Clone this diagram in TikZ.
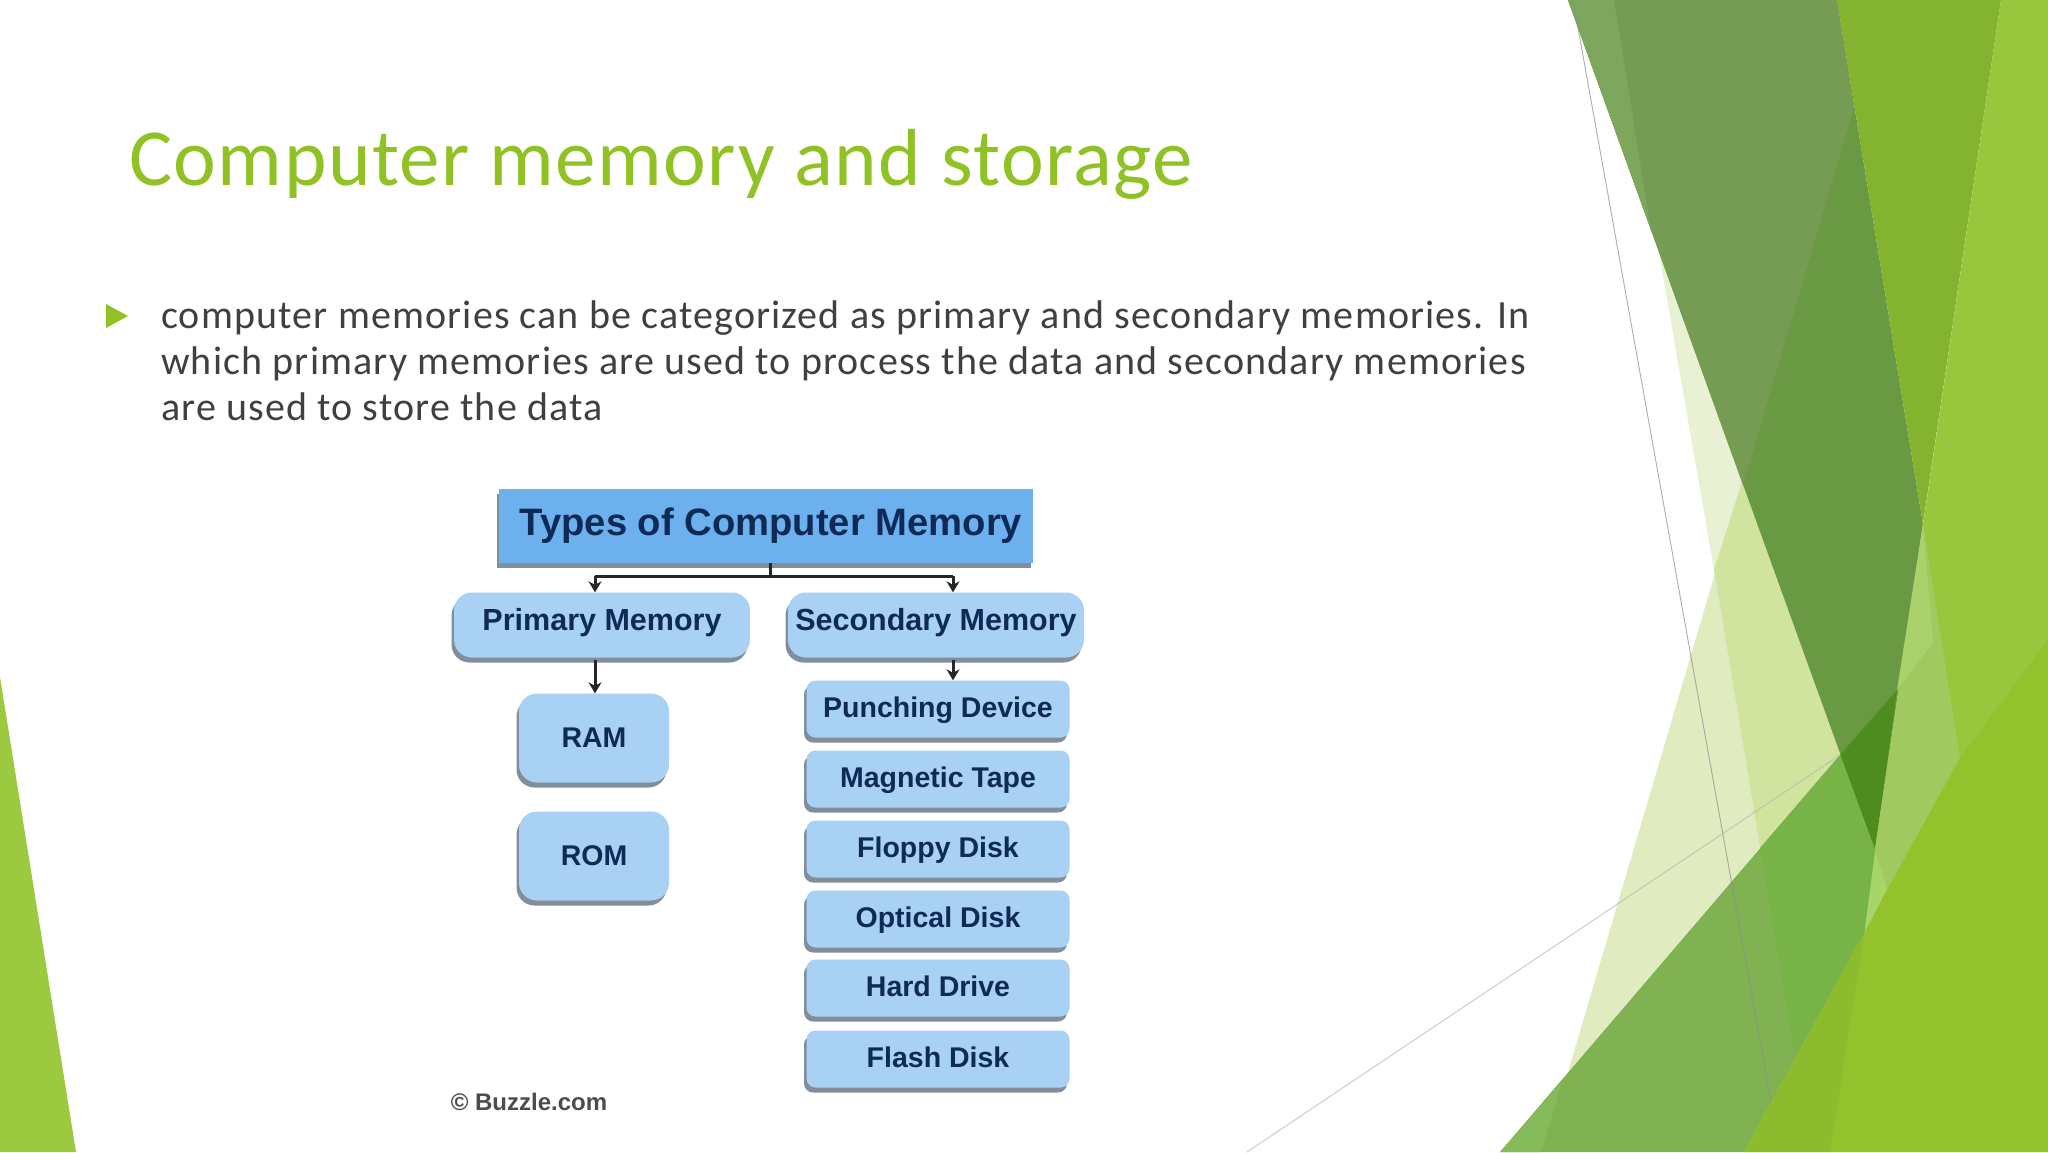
\documentclass[tikz,border=0pt]{standalone}
\usepackage{fontspec}
\setmainfont{Carlito}
\newfontfamily\diagfont{Liberation Sans}
\newfontfamily\titlefont[LetterSpace=1.8]{Carlito}
\newfontfamily\bodyfont[LetterSpace=2.9]{Carlito}
\usetikzlibrary{shadows,arrows.meta}
\definecolor{accent}{HTML}{90C226}
\definecolor{bodytext}{HTML}{404040}
\definecolor{inkblue}{HTML}{0F2B55}
\definecolor{HdrBlue}{HTML}{6CB0EE}
\definecolor{LiteBlue}{HTML}{A8D1F4}
\definecolor{shadowgrey}{HTML}{4E5F70}
\definecolor{cornerg}{HTML}{9BC940}
\definecolor{pa}{HTML}{E8F1D4}\definecolor{pb}{HTML}{E0EBC0}\definecolor{pc}{HTML}{D0E4A0}
\definecolor{aa}{HTML}{769B53}\definecolor{ab}{HTML}{7EA75D}\definecolor{ac}{HTML}{699A43}
\definecolor{dk}{HTML}{4F8C20}
\definecolor{ba}{HTML}{84B32F}
\definecolor{ca}{HTML}{98C63C}
\definecolor{da}{HTML}{ABD16C}\definecolor{db}{HTML}{A0CA60}\definecolor{fa}{HTML}{A8D568}
\definecolor{ga}{HTML}{80B252}\definecolor{gb}{HTML}{78B347}\definecolor{gc}{HTML}{86BB5C}
\definecolor{ea}{HTML}{93C22C}\definecolor{eb}{HTML}{8CBB2E}
\tikzset{
  hair/.style={draw=#1,line width=0.9pt},
  boxbase/.style={inner sep=0pt,align=center,text=inkblue,
    drop shadow={shadow xshift=-2.5pt,shadow yshift=-5pt,fill=shadowgrey,opacity=0.7}},
  topbox/.style={boxbase,fill=HdrBlue,minimum width=534pt,minimum height=74pt,text height=28.6pt,text depth=10.5pt,font=\diagfont\bfseries\fontsize{38.2}{40}\selectfont},
  midbox/.style={boxbase,fill=LiteBlue,rounded corners=18pt,minimum width=296pt,minimum height=65pt,text height=22.9pt,text depth=12.2pt,font=\diagfont\bfseries\fontsize{30.5}{32}\selectfont},
  tallbox/.style={boxbase,fill=LiteBlue,rounded corners=18pt,minimum width=150pt,minimum height=89pt,text height=20.8pt,text depth=2.3pt,font=\diagfont\bfseries\fontsize{28.5}{30}\selectfont},
  listbox/.style={boxbase,fill=LiteBlue,rounded corners=9pt,minimum width=263pt,minimum height=57pt,text height=20.8pt,text depth=4pt,font=\diagfont\bfseries\fontsize{28.5}{30}\selectfont},
  link/.style={draw=black!85,line width=3pt},
  linkarrow/.style={link,-{Stealth[length=11pt,width=13pt]}},
  bodyline/.style={anchor=base west,inner sep=0pt,text=bodytext,font=\bodyfont\fontsize{40}{46}\selectfont},
}
\begin{document}
\begin{tikzpicture}[x=1pt,y=-1pt]
\useasboundingbox (0,0) rectangle (2048,1152);
\fill[white] (0,0) rectangle (2048,1152);
% left corner
\fill[cornerg] (0,677) -- (76,1152) -- (0,1152) -- cycle;
% pale shapes (run under the dark blade)
\fill[pa] (1655,230) -- (1760,482) -- (1714,570) -- cycle;
\fill[pb] (1714,570) -- (1760,848) -- (1568,1072) -- (1742,482) -- cycle;
\fill[pc] (1714,570) -- (1742,482) -- (1860,755) -- (1840,755) -- (1760,848) -- cycle;
% dark upper shape
\fill[ac] (1568,0) -- (1837,0) -- (1923,524) -- (1875,850) -- cycle;
\fill[aa] (1568,0) -- (1837,0) -- (1854,107) -- (1743,485) -- cycle;
\fill[ab] (1568,0) -- (1614,0) -- (1651,230) -- cycle;
\fill[dk] (1897,690) -- (1840,755) -- (1875,850) -- cycle;
% bright centre blade
\fill[ba] (1837,0) -- (2001,0) -- (1923,524) -- cycle;
% right blade
\fill[ca] (2001,0) -- (2048,0) -- (2048,1152) -- (1830,1152) -- cycle;
% light wedges
\fill[db] (1923,524) -- (1960,758) -- (1887,889) -- (1875,850) -- cycle;
\fill[da] (1923,524) -- (1933,642) -- (1897,690) -- cycle;
\fill[fa] (1875,850) -- (1887,889) -- (1864,934) -- cycle;
% lower green
\fill[ga] (1840,755) -- (1875,850) -- (1864,934) -- (1744,1152) -- (1500,1152) -- cycle;
\fill[gb] (1840,755) -- (1875,850) -- (1864,934) -- (1795,1057) -- (1760,848) -- cycle;
\fill[gc] (1500,1152) -- (1562,1082) -- (1541,1152) -- cycle;
% lower right
\fill[ea] (2048,640) -- (2048,1152) -- (1744,1152) -- (1960,758) -- cycle;
\fill[eb] (1864,934) -- (1830,1152) -- (1744,1152) -- cycle;
% hair lines
\coordinate (h1a) at (1573,0);
\coordinate (h1b) at (1771,1102);
\coordinate (h2a) at (1247,1152);
\coordinate (h2b) at (1840,755);
\draw[hair=black!45,opacity=.7] (h1a) -- (h1b);
\draw[hair=black!30,opacity=.7] (h2a) -- (h2b);
% title and text
\node[anchor=base west,inner sep=0pt,text=accent,font=\titlefont\fontsize{81}{90}\selectfont] (title) at (129,185) {Computer memory and storage};
\fill[accent] (106,304) -- (128,316) -- (106,328) -- cycle;
\node[bodyline] (l1) at (161,328) {computer memories can be categorized as primary and secondary memories. In};
\node[bodyline] (l2) at (161,374) {which primary memories are used to process the data and secondary memories};
\node[bodyline] (l3) at (161,420) {are used to store the data};
% diagram
\node[topbox] (types) at (766,526) {\hspace*{10pt}Types of Computer Memory};
\node[midbox] (primary) at (602,625) {Primary Memory};
\node[midbox] (secondary) at (936,625) {Secondary Memory};
\node[tallbox] (ram) at (594,738) {RAM};
\node[tallbox] (rom) at (594,856) {ROM};
\node[listbox] (punch) at (938,709) {Punching Device};
\node[listbox] (tape) at (938,779) {Magnetic Tape};
\node[listbox] (floppy) at (938,849) {Floppy Disk};
\node[listbox] (optical) at (938,919) {Optical Disk};
\node[listbox] (hard) at (938,988) {Hard Drive};
\node[listbox] (flash) at (938,1059) {Flash Disk};
\node[inner sep=0pt,text=black!70,font=\diagfont\bfseries\fontsize{24}{26}\selectfont] (credit) at (529,1102) {© Buzzle.com};
\coordinate (ja) at (595,576);
\coordinate (jm) at (770,576);
\coordinate (jb) at (953,576);
\draw[link] (ja) -- (jb);
\draw[link] (jm) -- (jm |- types.south);
\draw[linkarrow] (ja) -- (ja |- primary.north);
\draw[linkarrow] (jb) -- (jb |- secondary.north);
\coordinate (pd) at (595,660);
\coordinate (sd) at (953,660);
\draw[linkarrow] (pd) -- (pd |- ram.north);
\draw[linkarrow] (sd) -- (sd |- punch.north);
\end{tikzpicture}
\end{document}
